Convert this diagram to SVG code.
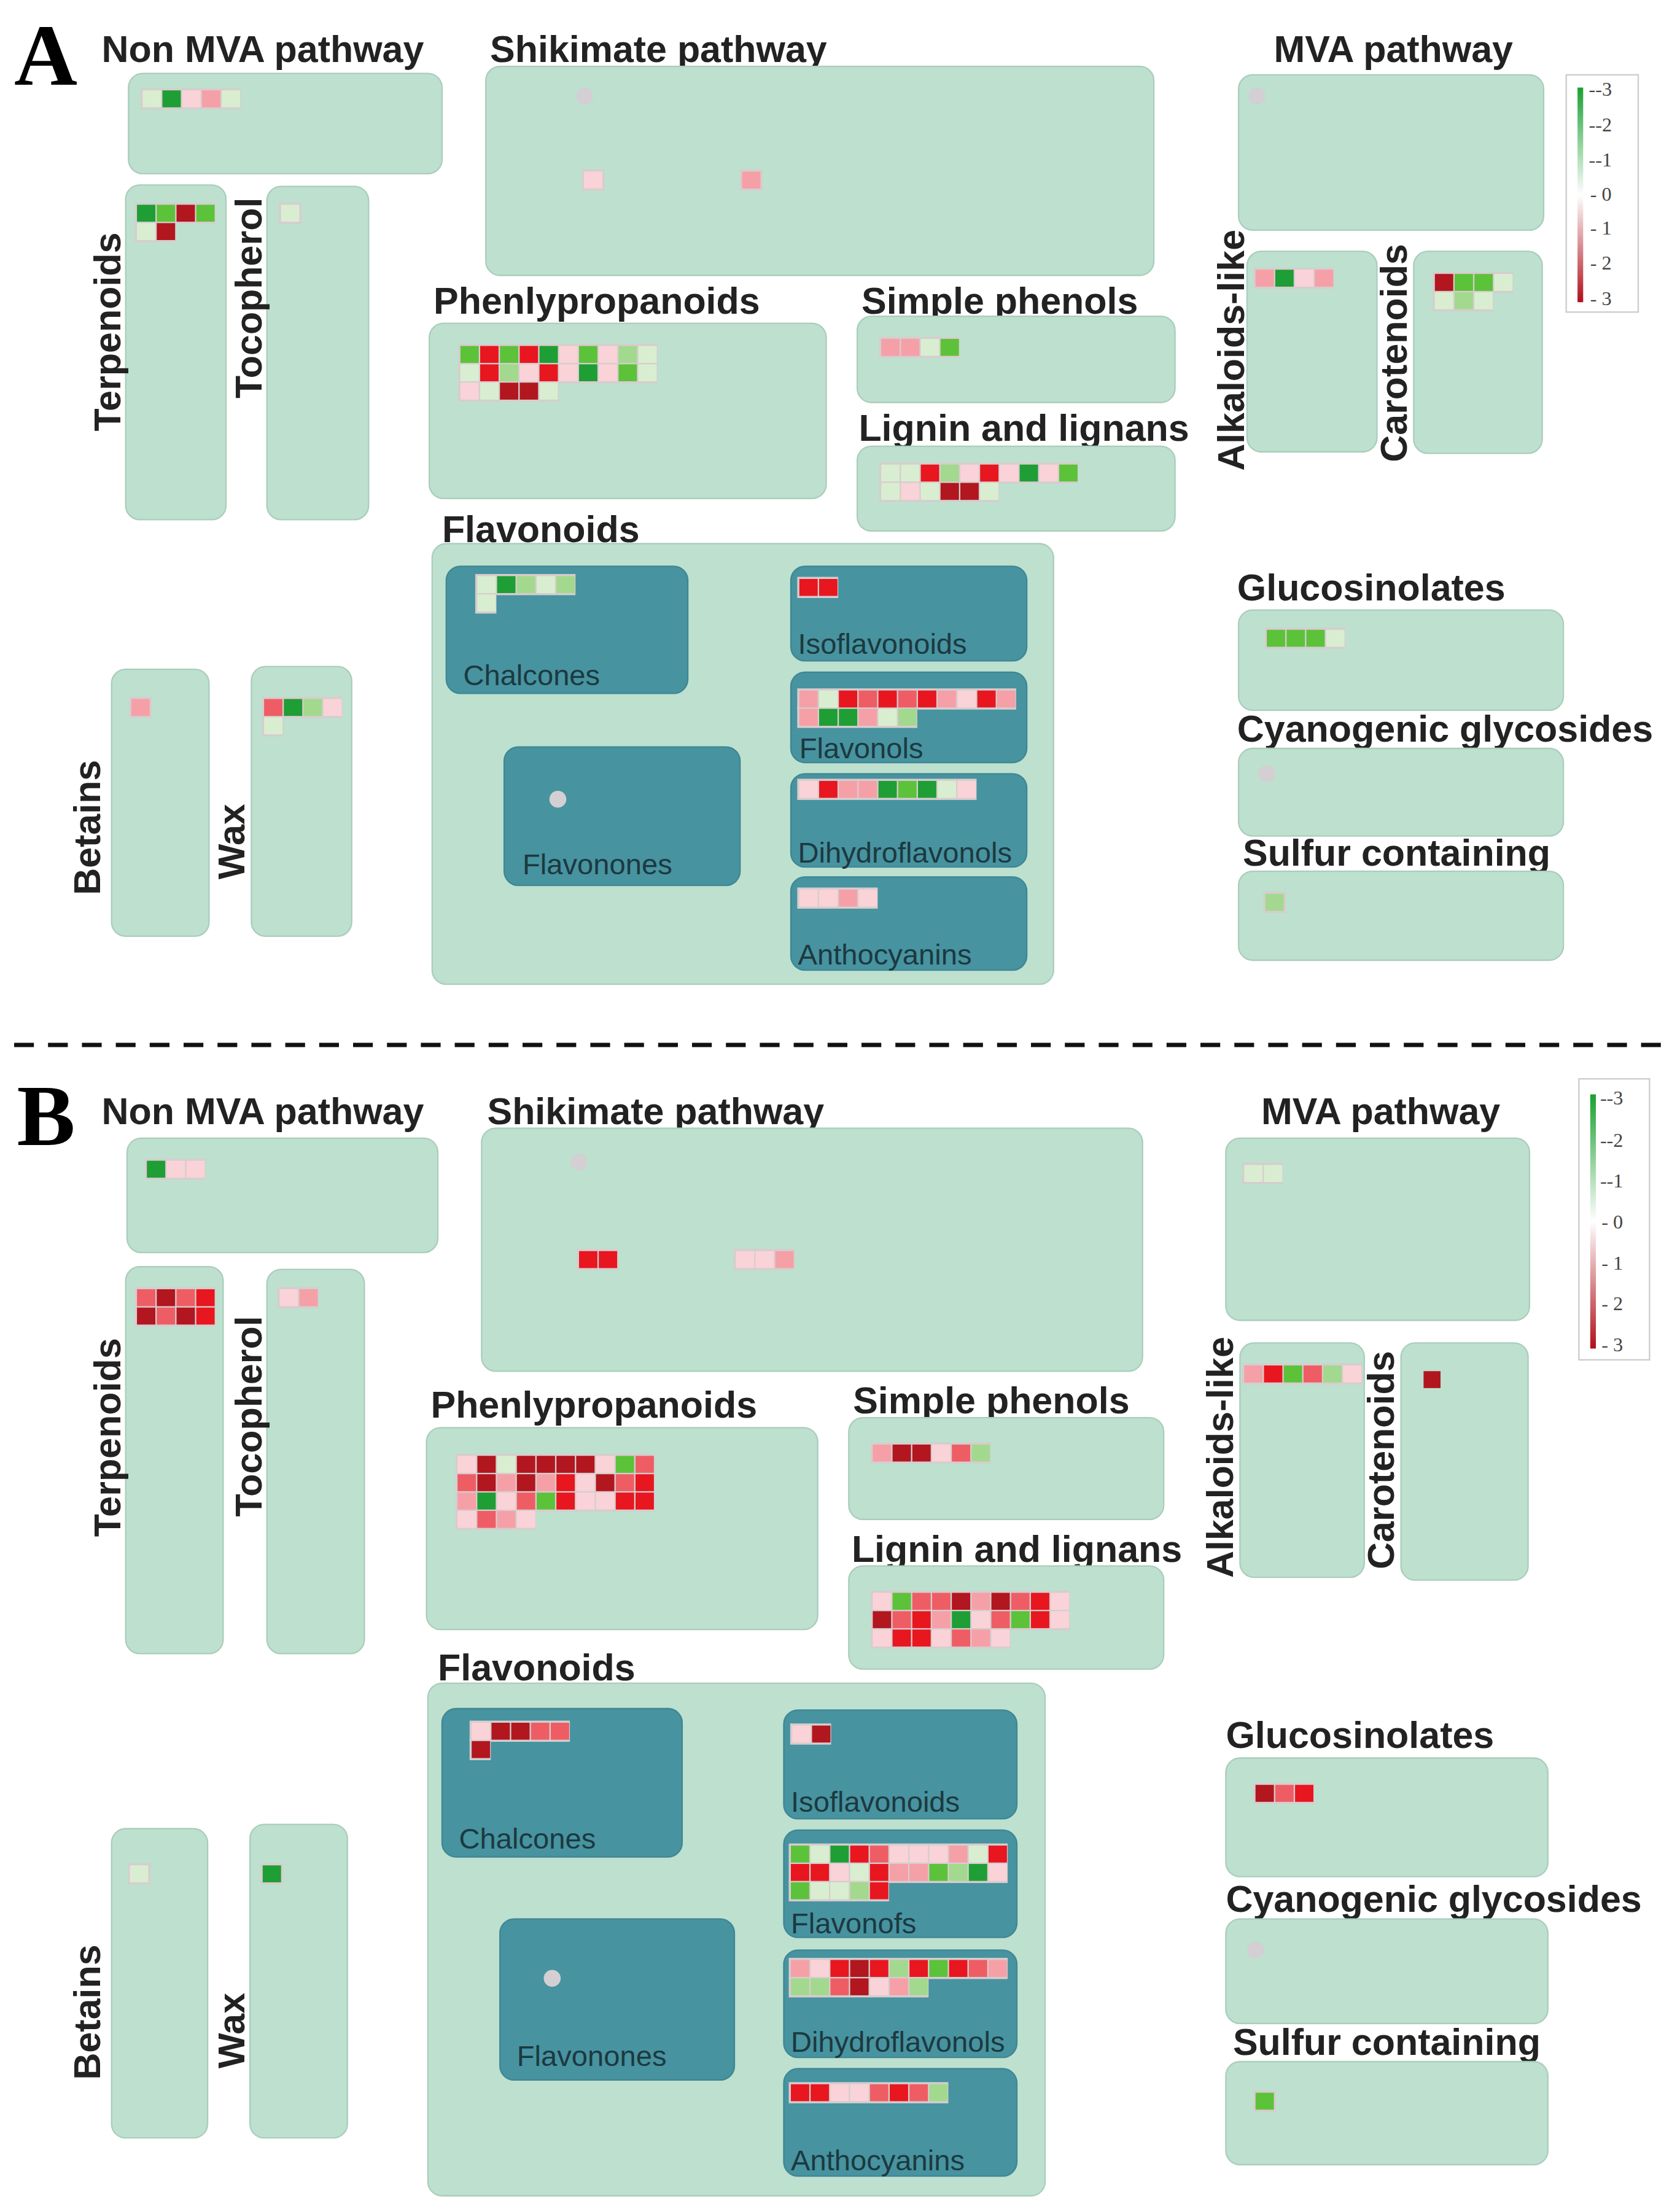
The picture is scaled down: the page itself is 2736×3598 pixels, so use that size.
<svg xmlns="http://www.w3.org/2000/svg" width="2736" height="3598" viewBox="0 0 2736 3598">
<defs>
<style>
.box{fill:#bee0cf;stroke:#abcdbd;stroke-width:1}
.sub{fill:#4793a0;stroke:#3f8794;stroke-width:1}
.t{font-family:"Liberation Sans",Arial,sans-serif;font-weight:bold;font-size:26.5px;fill:#222}
.s{font-family:"Liberation Sans",Arial,sans-serif;font-size:20.5px;fill:#1c3940}
.L{font-family:"Liberation Serif","Times New Roman",serif;font-weight:bold;font-size:62px;fill:#000}
.lg{font-family:"Liberation Serif",serif;font-size:14px;fill:#444}
.bg{fill:#d6cdce}
.dot{fill:#d3cfd2}
.a{fill:#1e9e34}.b{fill:#5cc23a}.c{fill:#a3d98e}.d{fill:#d9eed0}.e{fill:#f9d3d7}.f{fill:#f5a0a6}.g{fill:#ef5d64}.h{fill:#e8161f}.i{fill:#b2161f}
</style>
<linearGradient id="leg" x1="0" y1="0" x2="0" y2="1">
<stop offset="0" stop-color="#19a030"/><stop offset="0.5" stop-color="#ffffff"/><stop offset="1" stop-color="#b0101a"/>
</linearGradient>
</defs>
<rect width="2736" height="3598" fill="#fff"/>
<g transform="scale(2.3)">
<!-- ================= PANEL A ================= -->
<g id="panelA">
<text class="L" x="10" y="60">A</text>
<line x1="10" y1="740" x2="1182" y2="740" stroke="#111" stroke-width="3" stroke-dasharray="14,10"/>

<g id="A-nonmva"><text class="t" x="72" y="44">Non MVA pathway</text><rect class="box" x="91" y="52" width="222" height="71" rx="10"/>
<g transform="translate(101,64)"><rect class="bg" x="-1.5" y="-1.5" width="71" height="15"/><rect class="d" x="0" y="0" width="13" height="12"/><rect class="a" x="14" y="0" width="13" height="12"/><rect class="e" x="28" y="0" width="13" height="12"/><rect class="f" x="42" y="0" width="13" height="12"/><rect class="d" x="56" y="0" width="13" height="12"/></g></g>

<g id="A-shikimate"><text class="t" x="347" y="44">Shikimate pathway</text><rect class="box" x="344" y="47" width="473" height="148" rx="10"/>
<circle class="dot" cx="414" cy="68" r="6"/>
<rect class="bg" x="412" y="120" width="16" height="15"/><rect class="e" x="413.5" y="121.5" width="13" height="12"/>
<rect class="bg" x="524" y="120" width="16" height="15"/><rect class="f" x="525.5" y="121.5" width="13" height="12"/></g>

<g id="A-terpenoids"><rect class="box" x="89" y="131" width="71" height="237" rx="10"/><text class="t" transform="translate(85,235) rotate(-90)" text-anchor="middle">Terpenoids</text>
<g transform="translate(97,145)"><rect class="bg" x="-1.5" y="-1.5" width="57" height="15"/><rect class="bg" x="-1.5" y="11.5" width="29" height="15"/>
<rect class="a" x="0" y="0" width="13" height="12"/><rect class="b" x="14" y="0" width="13" height="12"/><rect class="i" x="28" y="0" width="13" height="12"/><rect class="b" x="42" y="0" width="13" height="12"/>
<rect class="d" x="0" y="13" width="13" height="12"/><rect class="i" x="14" y="13" width="13" height="12"/></g></g>

<g id="A-tocopherol"><rect class="box" x="189" y="132" width="72" height="236" rx="10"/><text class="t" transform="translate(185,211) rotate(-90)" text-anchor="middle">Tocopherol</text>
<rect class="bg" x="197.5" y="143.5" width="16" height="15"/><rect class="d" x="199" y="145" width="13" height="12"/></g>

<g id="A-phenyl"><text class="t" x="307" y="222">Phenlypropanoids</text><rect class="box" x="304" y="229" width="281" height="124" rx="10"/>
<g transform="translate(326,245)"><rect class="bg" x="-1.5" y="-1.5" width="141" height="28"/><rect class="bg" x="-1.5" y="24.5" width="71" height="15"/>
<rect class="b" x="0" y="0" width="13" height="12"/><rect class="h" x="14" y="0" width="13" height="12"/><rect class="b" x="28" y="0" width="13" height="12"/><rect class="h" x="42" y="0" width="13" height="12"/><rect class="a" x="56" y="0" width="13" height="12"/><rect class="e" x="70" y="0" width="13" height="12"/><rect class="b" x="84" y="0" width="13" height="12"/><rect class="e" x="98" y="0" width="13" height="12"/><rect class="c" x="112" y="0" width="13" height="12"/><rect class="d" x="126" y="0" width="13" height="12"/>
<rect class="d" x="0" y="13" width="13" height="12"/><rect class="h" x="14" y="13" width="13" height="12"/><rect class="c" x="28" y="13" width="13" height="12"/><rect class="e" x="42" y="13" width="13" height="12"/><rect class="h" x="56" y="13" width="13" height="12"/><rect class="e" x="70" y="13" width="13" height="12"/><rect class="a" x="84" y="13" width="13" height="12"/><rect class="e" x="98" y="13" width="13" height="12"/><rect class="b" x="112" y="13" width="13" height="12"/><rect class="d" x="126" y="13" width="13" height="12"/>
<rect class="e" x="0" y="26" width="13" height="12"/><rect class="d" x="14" y="26" width="13" height="12"/><rect class="i" x="28" y="26" width="13" height="12"/><rect class="i" x="42" y="26" width="13" height="12"/><rect class="d" x="56" y="26" width="13" height="12"/></g></g>

<g id="A-simple"><text class="t" x="610" y="222">Simple phenols</text><rect class="box" x="607" y="224" width="225" height="61" rx="10"/>
<g transform="translate(624,240)"><rect class="bg" x="-1.5" y="-1.5" width="57" height="15"/><rect class="f" x="0" y="0" width="13" height="12"/><rect class="f" x="14" y="0" width="13" height="12"/><rect class="d" x="28" y="0" width="13" height="12"/><rect class="b" x="42" y="0" width="13" height="12"/></g></g>

<g id="A-lignin"><text class="t" x="608" y="312">Lignin and lignans</text><rect class="box" x="607" y="316" width="225" height="60" rx="10"/>
<g transform="translate(624,329)"><rect class="bg" x="-1.5" y="-1.5" width="141" height="15"/><rect class="bg" x="-1.5" y="11.5" width="85" height="15"/>
<rect class="d" x="0" y="0" width="13" height="12"/><rect class="d" x="14" y="0" width="13" height="12"/><rect class="h" x="28" y="0" width="13" height="12"/><rect class="c" x="42" y="0" width="13" height="12"/><rect class="e" x="56" y="0" width="13" height="12"/><rect class="h" x="70" y="0" width="13" height="12"/><rect class="e" x="84" y="0" width="13" height="12"/><rect class="a" x="98" y="0" width="13" height="12"/><rect class="e" x="112" y="0" width="13" height="12"/><rect class="b" x="126" y="0" width="13" height="12"/>
<rect class="d" x="0" y="13" width="13" height="12"/><rect class="e" x="14" y="13" width="13" height="12"/><rect class="d" x="28" y="13" width="13" height="12"/><rect class="i" x="42" y="13" width="13" height="12"/><rect class="i" x="56" y="13" width="13" height="12"/><rect class="d" x="70" y="13" width="13" height="12"/></g></g>

<g id="A-mva"><text class="t" x="902" y="44">MVA pathway</text><rect class="box" x="877" y="53" width="216" height="110" rx="10"/><circle class="dot" cx="890" cy="68" r="6"/></g>

<g id="A-alkaloids"><rect class="box" x="883" y="178" width="92" height="142" rx="10"/><text class="t" transform="translate(881,248) rotate(-90)" text-anchor="middle">Alkaloids-like</text>
<g transform="translate(889,191)"><rect class="bg" x="-1.5" y="-1.5" width="57" height="15"/><rect class="f" x="0" y="0" width="13" height="12"/><rect class="a" x="14" y="0" width="13" height="12"/><rect class="e" x="28" y="0" width="13" height="12"/><rect class="f" x="42" y="0" width="13" height="12"/></g></g>

<g id="A-carotenoids"><rect class="box" x="1001" y="178" width="91" height="143" rx="10"/><text class="t" transform="translate(996,250) rotate(-90)" text-anchor="middle">Carotenoids</text>
<g transform="translate(1016,194)"><rect class="bg" x="-1.5" y="-1.5" width="57" height="15"/><rect class="bg" x="-1.5" y="11.5" width="43" height="15"/>
<rect class="i" x="0" y="0" width="13" height="12"/><rect class="b" x="14" y="0" width="13" height="12"/><rect class="b" x="28" y="0" width="13" height="12"/><rect class="d" x="42" y="0" width="13" height="12"/>
<rect class="d" x="0" y="13" width="13" height="12"/><rect class="c" x="14" y="13" width="13" height="12"/><rect class="d" x="28" y="13" width="13" height="12"/></g></g>

<g id="A-legend"><rect x="1109" y="53" width="51" height="168" fill="#fff" stroke="#ccc"/><rect x="1117" y="62" width="4" height="152" fill="url(#leg)"/>
<g class="lg"><text x="1125" y="68">--3</text><text x="1125" y="93">--2</text><text x="1125" y="118">--1</text><text x="1126" y="142">-  0</text><text x="1126" y="166">-  1</text><text x="1126" y="191">-  2</text><text x="1126" y="216">-  3</text></g></g>

<g id="A-flavonoids"><text class="t" x="313" y="384">Flavonoids</text><rect class="box" x="306" y="385" width="440" height="312" rx="10"/>
<g id="A-chalcones"><rect class="sub" x="316" y="401" width="171" height="90" rx="10"/><text class="s" x="328" y="485">Chalcones</text>
<g transform="translate(338,408)"><rect class="bg" x="-1.5" y="-1.5" width="71" height="15"/><rect class="bg" x="-1.5" y="11.5" width="15" height="15"/>
<rect class="d" x="0" y="0" width="13" height="12"/><rect class="a" x="14" y="0" width="13" height="12"/><rect class="c" x="28" y="0" width="13" height="12"/><rect class="d" x="42" y="0" width="13" height="12"/><rect class="c" x="56" y="0" width="13" height="12"/><rect class="d" x="0" y="13" width="13" height="12"/></g></g>
<g id="A-isoflavonoids"><rect class="sub" x="560" y="401" width="167" height="67" rx="10"/><text class="s" x="565" y="463">Isoflavonoids</text>
<g transform="translate(566,410)"><rect class="bg" x="-1.5" y="-1.5" width="29" height="15"/><rect class="h" x="0" y="0" width="13" height="12"/><rect class="h" x="14" y="0" width="13" height="12"/></g></g>
<g id="A-flavonols"><rect class="sub" x="560" y="476" width="167" height="64" rx="10"/><text class="s" x="566" y="537">Flavonols</text>
<g transform="translate(566,489)"><rect class="bg" x="-1.5" y="-1.5" width="155" height="15"/><rect class="bg" x="-1.5" y="11.5" width="85" height="15"/>
<rect class="f" x="0" y="0" width="13" height="12"/><rect class="d" x="14" y="0" width="13" height="12"/><rect class="h" x="28" y="0" width="13" height="12"/><rect class="g" x="42" y="0" width="13" height="12"/><rect class="h" x="56" y="0" width="13" height="12"/><rect class="g" x="70" y="0" width="13" height="12"/><rect class="h" x="84" y="0" width="13" height="12"/><rect class="f" x="98" y="0" width="13" height="12"/><rect class="e" x="112" y="0" width="13" height="12"/><rect class="h" x="126" y="0" width="13" height="12"/><rect class="f" x="140" y="0" width="13" height="12"/>
<rect class="f" x="0" y="13" width="13" height="12"/><rect class="a" x="14" y="13" width="13" height="12"/><rect class="a" x="28" y="13" width="13" height="12"/><rect class="f" x="42" y="13" width="13" height="12"/><rect class="d" x="56" y="13" width="13" height="12"/><rect class="c" x="70" y="13" width="13" height="12"/></g></g>
<g id="A-flavonones"><rect class="sub" x="357" y="529" width="167" height="98" rx="10"/><text class="s" x="370" y="619">Flavonones</text><circle class="dot" cx="395" cy="566" r="6"/></g>
<g id="A-dihydroflavonols"><rect class="sub" x="560" y="548" width="167" height="66" rx="10"/><text class="s" x="565" y="611">Dihydroflavonols</text>
<g transform="translate(566,553)"><rect class="bg" x="-1.5" y="-1.5" width="127" height="15"/>
<rect class="e" x="0" y="0" width="13" height="12"/><rect class="h" x="14" y="0" width="13" height="12"/><rect class="f" x="28" y="0" width="13" height="12"/><rect class="f" x="42" y="0" width="13" height="12"/><rect class="a" x="56" y="0" width="13" height="12"/><rect class="b" x="70" y="0" width="13" height="12"/><rect class="a" x="84" y="0" width="13" height="12"/><rect class="d" x="98" y="0" width="13" height="12"/><rect class="e" x="112" y="0" width="13" height="12"/></g></g>
<g id="A-anthocyanins"><rect class="sub" x="560" y="621" width="167" height="66" rx="10"/><text class="s" x="565" y="683">Anthocyanins</text>
<g transform="translate(566,630)"><rect class="bg" x="-1.5" y="-1.5" width="57" height="15"/><rect class="e" x="0" y="0" width="13" height="12"/><rect class="e" x="14" y="0" width="13" height="12"/><rect class="f" x="28" y="0" width="13" height="12"/><rect class="e" x="42" y="0" width="13" height="12"/></g></g>
</g>

<g id="A-betains"><rect class="box" x="79" y="474" width="69" height="189" rx="10"/><text class="t" transform="translate(71,586) rotate(-90)" text-anchor="middle">Betains</text>
<rect class="bg" x="91.5" y="493.5" width="16" height="15"/><rect class="f" x="93" y="495" width="13" height="12"/></g>
<g id="A-wax"><rect class="box" x="178" y="472" width="71" height="191" rx="10"/><text class="t" transform="translate(173,596) rotate(-90)" text-anchor="middle">Wax</text>
<g transform="translate(187,495)"><rect class="bg" x="-1.5" y="-1.5" width="57" height="15"/><rect class="bg" x="-1.5" y="11.5" width="15" height="15"/>
<rect class="g" x="0" y="0" width="13" height="12"/><rect class="a" x="14" y="0" width="13" height="12"/><rect class="c" x="28" y="0" width="13" height="12"/><rect class="e" x="42" y="0" width="13" height="12"/><rect class="d" x="0" y="13" width="13" height="12"/></g></g>

<g id="A-glucosinolates"><text class="t" x="876" y="425">Glucosinolates</text><rect class="box" x="877" y="432" width="230" height="71" rx="10"/>
<g transform="translate(897,446)"><rect class="bg" x="-1.5" y="-1.5" width="57" height="15"/><rect class="b" x="0" y="0" width="13" height="12"/><rect class="b" x="14" y="0" width="13" height="12"/><rect class="b" x="28" y="0" width="13" height="12"/><rect class="d" x="42" y="0" width="13" height="12"/></g></g>
<g id="A-cyanogenic"><text class="t" x="876" y="525">Cyanogenic glycosides</text><rect class="box" x="877" y="530" width="230" height="62" rx="10"/><circle class="dot" cx="897" cy="548" r="6"/></g>
<g id="A-sulfur"><text class="t" x="880" y="613">Sulfur containing</text><rect class="box" x="877" y="617" width="230" height="63" rx="10"/>
<rect class="bg" x="894.5" y="631.5" width="16" height="15"/><rect class="c" x="896" y="633" width="13" height="12"/></g>
</g>

<!-- ================= PANEL B ================= -->
<g id="panelB">
<text class="L" x="12" y="811">B</text>

<g id="B-nonmva"><text class="t" x="72" y="796">Non MVA pathway</text><rect class="box" x="90" y="806" width="220" height="81" rx="10"/>
<g transform="translate(104,822)"><rect class="bg" x="-1.5" y="-1.5" width="43" height="15"/><rect class="a" x="0" y="0" width="13" height="12"/><rect class="e" x="14" y="0" width="13" height="12"/><rect class="e" x="28" y="0" width="13" height="12"/></g></g>

<g id="B-shikimate"><text class="t" x="345" y="796">Shikimate pathway</text><rect class="box" x="341" y="799" width="468" height="172" rx="10"/>
<circle class="dot" cx="410" cy="823" r="6"/>
<g transform="translate(410,886)"><rect class="bg" x="-1.5" y="-1.5" width="29" height="15"/><rect class="h" x="0" y="0" width="13" height="12"/><rect class="h" x="14" y="0" width="13" height="12"/></g>
<g transform="translate(521,886)"><rect class="bg" x="-1.5" y="-1.5" width="43" height="15"/><rect class="e" x="0" y="0" width="13" height="12"/><rect class="e" x="14" y="0" width="13" height="12"/><rect class="f" x="28" y="0" width="13" height="12"/></g></g>

<g id="B-terpenoids"><rect class="box" x="89" y="897" width="69" height="274" rx="10"/><text class="t" transform="translate(85,1018) rotate(-90)" text-anchor="middle">Terpenoids</text>
<g transform="translate(97,913)"><rect class="bg" x="-1.5" y="-1.5" width="57" height="28"/>
<rect class="g" x="0" y="0" width="13" height="12"/><rect class="i" x="14" y="0" width="13" height="12"/><rect class="g" x="28" y="0" width="13" height="12"/><rect class="h" x="42" y="0" width="13" height="12"/>
<rect class="i" x="0" y="13" width="13" height="12"/><rect class="g" x="14" y="13" width="13" height="12"/><rect class="i" x="28" y="13" width="13" height="12"/><rect class="h" x="42" y="13" width="13" height="12"/></g></g>

<g id="B-tocopherol"><rect class="box" x="189" y="899" width="69" height="272" rx="10"/><text class="t" transform="translate(185,1003) rotate(-90)" text-anchor="middle">Tocopherol</text>
<g transform="translate(198,913)"><rect class="bg" x="-1.5" y="-1.5" width="29" height="15"/><rect class="e" x="0" y="0" width="13" height="12"/><rect class="f" x="14" y="0" width="13" height="12"/></g></g>

<g id="B-phenyl"><text class="t" x="305" y="1004">Phenlypropanoids</text><rect class="box" x="302" y="1011" width="277" height="143" rx="10"/>
<g transform="translate(324,1031)"><rect class="bg" x="-1.5" y="-1.5" width="141" height="41"/><rect class="bg" x="-1.5" y="37.5" width="57" height="15"/>
<rect class="e" x="0" y="0" width="13" height="12"/><rect class="i" x="14" y="0" width="13" height="12"/><rect class="d" x="28" y="0" width="13" height="12"/><rect class="i" x="42" y="0" width="13" height="12"/><rect class="i" x="56" y="0" width="13" height="12"/><rect class="i" x="70" y="0" width="13" height="12"/><rect class="i" x="84" y="0" width="13" height="12"/><rect class="e" x="98" y="0" width="13" height="12"/><rect class="b" x="112" y="0" width="13" height="12"/><rect class="g" x="126" y="0" width="13" height="12"/>
<rect class="g" x="0" y="13" width="13" height="12"/><rect class="i" x="14" y="13" width="13" height="12"/><rect class="f" x="28" y="13" width="13" height="12"/><rect class="i" x="42" y="13" width="13" height="12"/><rect class="f" x="56" y="13" width="13" height="12"/><rect class="h" x="70" y="13" width="13" height="12"/><rect class="e" x="84" y="13" width="13" height="12"/><rect class="i" x="98" y="13" width="13" height="12"/><rect class="g" x="112" y="13" width="13" height="12"/><rect class="h" x="126" y="13" width="13" height="12"/>
<rect class="f" x="0" y="26" width="13" height="12"/><rect class="a" x="14" y="26" width="13" height="12"/><rect class="e" x="28" y="26" width="13" height="12"/><rect class="g" x="42" y="26" width="13" height="12"/><rect class="b" x="56" y="26" width="13" height="12"/><rect class="h" x="70" y="26" width="13" height="12"/><rect class="e" x="84" y="26" width="13" height="12"/><rect class="e" x="98" y="26" width="13" height="12"/><rect class="h" x="112" y="26" width="13" height="12"/><rect class="h" x="126" y="26" width="13" height="12"/>
<rect class="e" x="0" y="39" width="13" height="12"/><rect class="g" x="14" y="39" width="13" height="12"/><rect class="f" x="28" y="39" width="13" height="12"/><rect class="e" x="42" y="39" width="13" height="12"/></g></g>

<g id="B-simple"><text class="t" x="604" y="1001">Simple phenols</text><rect class="box" x="601" y="1004" width="223" height="72" rx="10"/>
<g transform="translate(618,1023)"><rect class="bg" x="-1.5" y="-1.5" width="85" height="15"/><rect class="f" x="0" y="0" width="13" height="12"/><rect class="i" x="14" y="0" width="13" height="12"/><rect class="i" x="28" y="0" width="13" height="12"/><rect class="e" x="42" y="0" width="13" height="12"/><rect class="g" x="56" y="0" width="13" height="12"/><rect class="c" x="70" y="0" width="13" height="12"/></g></g>

<g id="B-lignin"><text class="t" x="603" y="1106">Lignin and lignans</text><rect class="box" x="601" y="1109" width="223" height="73" rx="10"/>
<g transform="translate(618,1128)"><rect class="bg" x="-1.5" y="-1.5" width="141" height="28"/><rect class="bg" x="-1.5" y="24.5" width="99" height="15"/>
<rect class="e" x="0" y="0" width="13" height="12"/><rect class="b" x="14" y="0" width="13" height="12"/><rect class="g" x="28" y="0" width="13" height="12"/><rect class="g" x="42" y="0" width="13" height="12"/><rect class="i" x="56" y="0" width="13" height="12"/><rect class="f" x="70" y="0" width="13" height="12"/><rect class="i" x="84" y="0" width="13" height="12"/><rect class="g" x="98" y="0" width="13" height="12"/><rect class="h" x="112" y="0" width="13" height="12"/><rect class="e" x="126" y="0" width="13" height="12"/>
<rect class="i" x="0" y="13" width="13" height="12"/><rect class="g" x="14" y="13" width="13" height="12"/><rect class="h" x="28" y="13" width="13" height="12"/><rect class="f" x="42" y="13" width="13" height="12"/><rect class="a" x="56" y="13" width="13" height="12"/><rect class="e" x="70" y="13" width="13" height="12"/><rect class="g" x="84" y="13" width="13" height="12"/><rect class="b" x="98" y="13" width="13" height="12"/><rect class="h" x="112" y="13" width="13" height="12"/><rect class="e" x="126" y="13" width="13" height="12"/>
<rect class="e" x="0" y="26" width="13" height="12"/><rect class="h" x="14" y="26" width="13" height="12"/><rect class="h" x="28" y="26" width="13" height="12"/><rect class="e" x="42" y="26" width="13" height="12"/><rect class="g" x="56" y="26" width="13" height="12"/><rect class="f" x="70" y="26" width="13" height="12"/><rect class="e" x="84" y="26" width="13" height="12"/></g></g>

<g id="B-mva"><text class="t" x="893" y="796">MVA pathway</text><rect class="box" x="868" y="806" width="215" height="129" rx="10"/>
<g transform="translate(881,825)"><rect class="bg" x="-1.5" y="-1.5" width="29" height="15"/><rect class="d" x="0" y="0" width="13" height="12"/><rect class="d" x="14" y="0" width="13" height="12"/></g></g>

<g id="B-alkaloids"><rect class="box" x="878" y="951" width="88" height="166" rx="10"/><text class="t" transform="translate(873,1032) rotate(-90)" text-anchor="middle">Alkaloids-like</text>
<g transform="translate(881,967)"><rect class="bg" x="-1.5" y="-1.5" width="85" height="15"/><rect class="f" x="0" y="0" width="13" height="12"/><rect class="h" x="14" y="0" width="13" height="12"/><rect class="b" x="28" y="0" width="13" height="12"/><rect class="g" x="42" y="0" width="13" height="12"/><rect class="c" x="56" y="0" width="13" height="12"/><rect class="e" x="70" y="0" width="13" height="12"/></g></g>

<g id="B-carotenoids"><rect class="box" x="992" y="951" width="90" height="168" rx="10"/><text class="t" transform="translate(987,1034) rotate(-90)" text-anchor="middle">Carotenoids</text>
<rect class="i" x="1008" y="971" width="12" height="12"/></g>

<g id="B-legend"><rect x="1118" y="764" width="50" height="199" fill="#fff" stroke="#ccc"/><rect x="1126" y="775" width="4" height="180" fill="url(#leg)"/>
<g class="lg"><text x="1133" y="782">--3</text><text x="1133" y="812">--2</text><text x="1133" y="841">--1</text><text x="1134" y="870">-  0</text><text x="1134" y="899">-  1</text><text x="1134" y="928">-  2</text><text x="1134" y="957">-  3</text></g></g>

<g id="B-flavonoids"><text class="t" x="310" y="1190">Flavonoids</text><rect class="box" x="303" y="1192" width="437" height="363" rx="10"/>
<g id="B-chalcones"><rect class="sub" x="313" y="1210" width="170" height="105" rx="10"/><text class="s" x="325" y="1309">Chalcones</text>
<g transform="translate(334,1220)"><rect class="bg" x="-1.5" y="-1.5" width="71" height="15"/><rect class="bg" x="-1.5" y="11.5" width="15" height="15"/>
<rect class="e" x="0" y="0" width="13" height="12"/><rect class="i" x="14" y="0" width="13" height="12"/><rect class="i" x="28" y="0" width="13" height="12"/><rect class="g" x="42" y="0" width="13" height="12"/><rect class="g" x="56" y="0" width="13" height="12"/><rect class="i" x="0" y="13" width="13" height="12"/></g></g>
<g id="B-isoflavonoids"><rect class="sub" x="555" y="1211" width="165" height="77" rx="10"/><text class="s" x="560" y="1283">Isoflavonoids</text>
<g transform="translate(561,1222)"><rect class="bg" x="-1.5" y="-1.5" width="29" height="15"/><rect class="e" x="0" y="0" width="13" height="12"/><rect class="i" x="14" y="0" width="13" height="12"/></g></g>
<g id="B-flavonofs"><rect class="sub" x="555" y="1296" width="165" height="76" rx="10"/><text class="s" x="560" y="1369">Flavonofs</text>
<g transform="translate(560,1307)"><rect class="bg" x="-1.5" y="-1.5" width="155" height="28"/><rect class="bg" x="-1.5" y="24.5" width="71" height="15"/>
<rect class="b" x="0" y="0" width="13" height="12"/><rect class="d" x="14" y="0" width="13" height="12"/><rect class="a" x="28" y="0" width="13" height="12"/><rect class="h" x="42" y="0" width="13" height="12"/><rect class="g" x="56" y="0" width="13" height="12"/><rect class="e" x="70" y="0" width="13" height="12"/><rect class="e" x="84" y="0" width="13" height="12"/><rect class="e" x="98" y="0" width="13" height="12"/><rect class="f" x="112" y="0" width="13" height="12"/><rect class="d" x="126" y="0" width="13" height="12"/><rect class="h" x="140" y="0" width="13" height="12"/>
<rect class="h" x="0" y="13" width="13" height="12"/><rect class="h" x="14" y="13" width="13" height="12"/><rect class="e" x="28" y="13" width="13" height="12"/><rect class="d" x="42" y="13" width="13" height="12"/><rect class="h" x="56" y="13" width="13" height="12"/><rect class="f" x="70" y="13" width="13" height="12"/><rect class="f" x="84" y="13" width="13" height="12"/><rect class="b" x="98" y="13" width="13" height="12"/><rect class="c" x="112" y="13" width="13" height="12"/><rect class="a" x="126" y="13" width="13" height="12"/><rect class="e" x="140" y="13" width="13" height="12"/>
<rect class="b" x="0" y="26" width="13" height="12"/><rect class="d" x="14" y="26" width="13" height="12"/><rect class="d" x="28" y="26" width="13" height="12"/><rect class="c" x="42" y="26" width="13" height="12"/><rect class="h" x="56" y="26" width="13" height="12"/></g></g>
<g id="B-flavonones"><rect class="sub" x="354" y="1359" width="166" height="114" rx="10"/><text class="s" x="366" y="1463">Flavonones</text><circle class="dot" cx="391" cy="1401" r="6"/></g>
<g id="B-dihydroflavonols"><rect class="sub" x="555" y="1381" width="165" height="76" rx="10"/><text class="s" x="560" y="1453">Dihydroflavonols</text>
<g transform="translate(560,1388)"><rect class="bg" x="-1.5" y="-1.5" width="155" height="15"/><rect class="bg" x="-1.5" y="11.5" width="99" height="15"/>
<rect class="f" x="0" y="0" width="13" height="12"/><rect class="e" x="14" y="0" width="13" height="12"/><rect class="h" x="28" y="0" width="13" height="12"/><rect class="i" x="42" y="0" width="13" height="12"/><rect class="h" x="56" y="0" width="13" height="12"/><rect class="c" x="70" y="0" width="13" height="12"/><rect class="h" x="84" y="0" width="13" height="12"/><rect class="b" x="98" y="0" width="13" height="12"/><rect class="h" x="112" y="0" width="13" height="12"/><rect class="g" x="126" y="0" width="13" height="12"/><rect class="f" x="140" y="0" width="13" height="12"/>
<rect class="c" x="0" y="13" width="13" height="12"/><rect class="c" x="14" y="13" width="13" height="12"/><rect class="g" x="28" y="13" width="13" height="12"/><rect class="i" x="42" y="13" width="13" height="12"/><rect class="e" x="56" y="13" width="13" height="12"/><rect class="f" x="70" y="13" width="13" height="12"/><rect class="c" x="84" y="13" width="13" height="12"/></g></g>
<g id="B-anthocyanins"><rect class="sub" x="555" y="1465" width="165" height="76" rx="10"/><text class="s" x="560" y="1537">Anthocyanins</text>
<g transform="translate(560,1476)"><rect class="bg" x="-1.5" y="-1.5" width="113" height="15"/>
<rect class="h" x="0" y="0" width="13" height="12"/><rect class="h" x="14" y="0" width="13" height="12"/><rect class="e" x="28" y="0" width="13" height="12"/><rect class="e" x="42" y="0" width="13" height="12"/><rect class="g" x="56" y="0" width="13" height="12"/><rect class="h" x="70" y="0" width="13" height="12"/><rect class="g" x="84" y="0" width="13" height="12"/><rect class="c" x="98" y="0" width="13" height="12"/></g></g>
</g>

<g id="B-betains"><rect class="box" x="79" y="1295" width="68" height="219" rx="10"/><text class="t" transform="translate(71,1425) rotate(-90)" text-anchor="middle">Betains</text>
<rect class="bg" x="90.5" y="1319.5" width="16" height="15"/><rect class="d" x="92" y="1321" width="13" height="12"/></g>
<g id="B-wax"><rect class="box" x="177" y="1292" width="69" height="222" rx="10"/><text class="t" transform="translate(173,1438) rotate(-90)" text-anchor="middle">Wax</text>
<rect class="bg" x="184.5" y="1319.5" width="16" height="15"/><rect class="a" x="186" y="1321" width="13" height="12"/></g>

<g id="B-glucosinolates"><text class="t" x="868" y="1238">Glucosinolates</text><rect class="box" x="868" y="1245" width="228" height="84" rx="10"/>
<g transform="translate(889,1264)"><rect class="bg" x="-1.5" y="-1.5" width="43" height="15"/><rect class="i" x="0" y="0" width="13" height="12"/><rect class="g" x="14" y="0" width="13" height="12"/><rect class="h" x="28" y="0" width="13" height="12"/></g></g>
<g id="B-cyanogenic"><text class="t" x="868" y="1354">Cyanogenic glycosides</text><rect class="box" x="868" y="1359" width="228" height="74" rx="10"/><circle class="dot" cx="889" cy="1381" r="6"/></g>
<g id="B-sulfur"><text class="t" x="873" y="1455">Sulfur containing</text><rect class="box" x="868" y="1460" width="228" height="73" rx="10"/>
<rect class="bg" x="887.5" y="1480.5" width="16" height="15"/><rect class="b" x="889" y="1482" width="13" height="12"/></g>
</g>
</g>
</svg>
